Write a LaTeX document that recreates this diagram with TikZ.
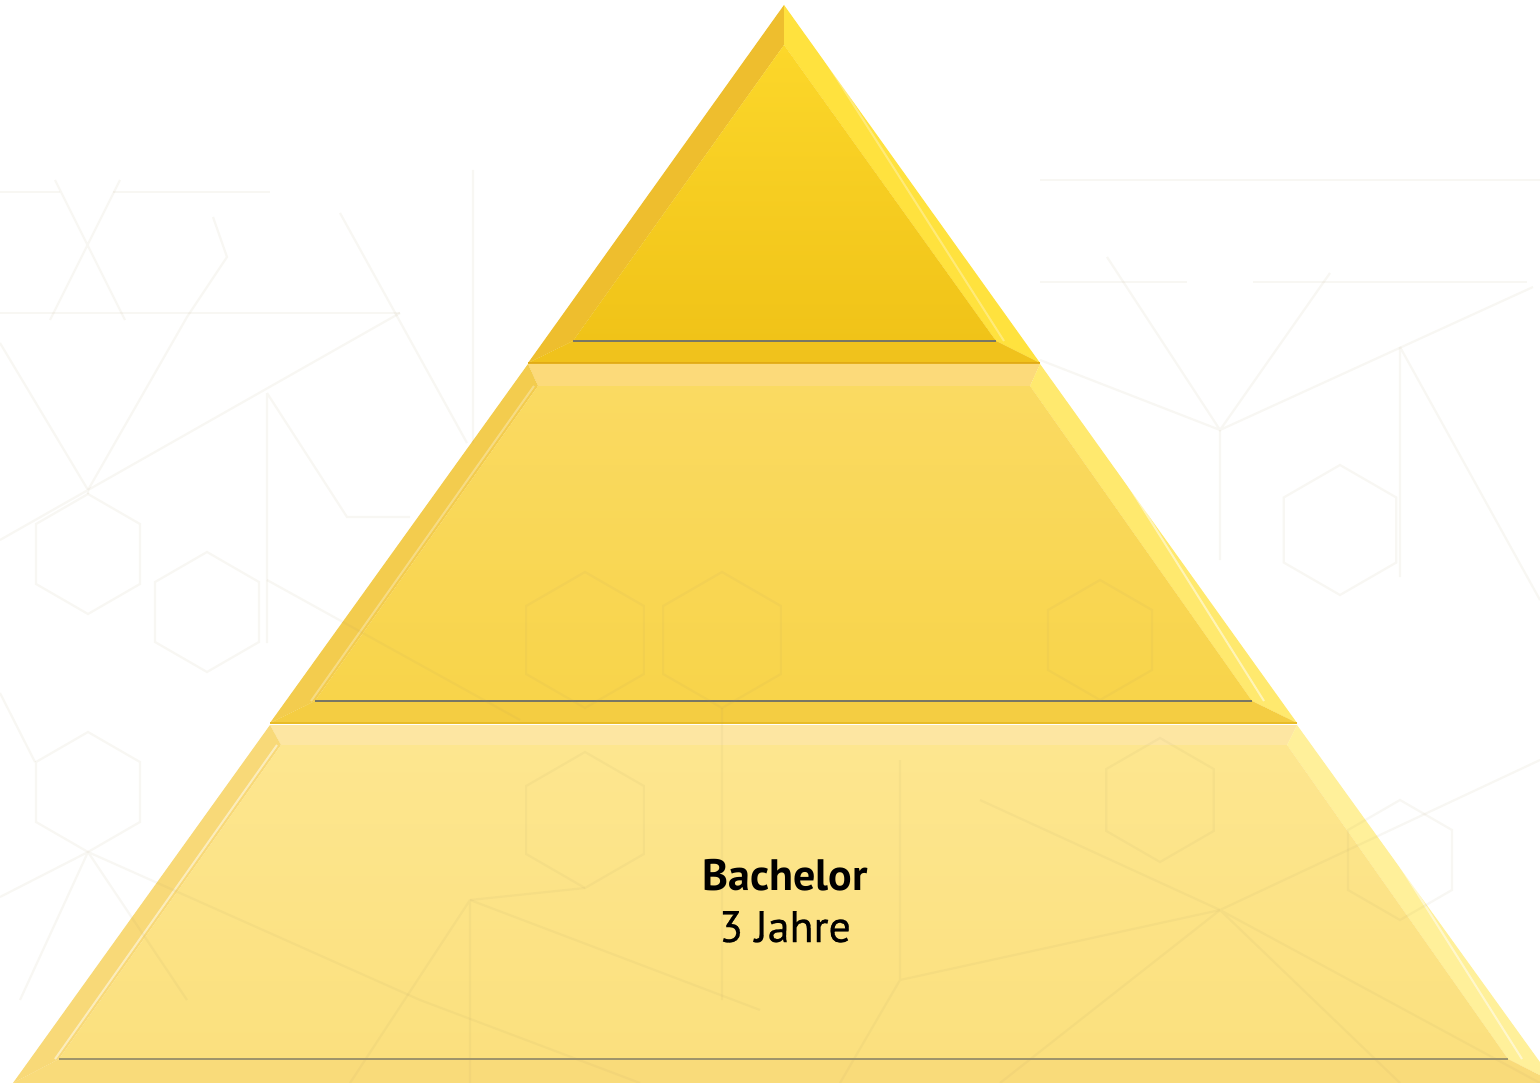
\documentclass[tikz,border=0pt]{standalone}
\usepackage{fontspec}
\setmainfont{PT Sans}
\newfontfamily\regfont[FakeBold=0.6]{PT Sans}
\definecolor{patc}{RGB}{170,150,100}
\definecolor{edgec}{RGB}{120,118,100}
\definecolor{sepA}{RGB}{225,170,20}
\definecolor{sepB}{RGB}{232,188,40}
\definecolor{tFaceA}{HTML}{FCD72A}\definecolor{tFaceB}{HTML}{F0C318}
\definecolor{tLeft}{HTML}{EEBE2E}\definecolor{tRight}{HTML}{FFE23E}\definecolor{tBot}{HTML}{F0C21C}
\definecolor{mFaceA}{HTML}{FADA62}\definecolor{mFaceB}{HTML}{F8D44A}
\definecolor{mTop}{HTML}{FCDA7A}\definecolor{mLeft}{HTML}{F3CC4E}\definecolor{mRight}{HTML}{FFE96E}\definecolor{mBot}{HTML}{F4CD42}
\definecolor{bFaceA}{HTML}{FDE68F}\definecolor{bFaceB}{HTML}{FBE07E}
\definecolor{bTop}{HTML}{FDE6A2}\definecolor{bLeft}{HTML}{F8D978}\definecolor{bRight}{HTML}{FFF09A}\definecolor{bBot}{HTML}{F9DB7A}
\begin{document}
\begin{tikzpicture}[x=1pt,y=-1pt,
  pat/.style={draw=patc,draw opacity=0.075,line width=2.2pt},
  edgeline/.style={draw=edgec,line width=1.4pt},
  hilite/.style={draw=white,draw opacity=0.3,line width=2pt},
  lbl/.style={align=center,font=\fontsize{44}{50}\selectfont,text=black,inner sep=0pt}]
\useasboundingbox (0,0) rectangle (1540,1083);
\fill[white] (0,0) rectangle (1540,1083);
\clip (0,0) rectangle (1540,1083);

% ---------- top tier
\coordinate (A) at (784,5);   \coordinate (a) at (784,45);
\coordinate (TL) at (528,363); \coordinate (TR) at (1040,363);
\coordinate (tl) at (573,341); \coordinate (tr) at (996,341);
\fill[tLeft] (A) -- (a) -- (tl) -- (TL) -- cycle;
\fill[tRight] (A) -- (TR) -- (tr) -- (a) -- cycle;
\fill[tBot] (TL) -- (tl) -- (tr) -- (TR) -- cycle;
\shade[top color=tFaceA,bottom color=tFaceB] (a) -- (tr) -- (tl) -- cycle;
\draw[hilite] ([xshift=6pt]A) -- ([xshift=8pt]tr);
\draw[edgeline] (tl) -- (tr);
\draw[sepA,line width=1.2pt] (TL) -- (TR);

% ---------- middle tier
\coordinate (M1) at (528,364); \coordinate (M2) at (1040,364);
\coordinate (M3) at (1297,723); \coordinate (M4) at (270,723);
\coordinate (m1) at (538,386); \coordinate (m2) at (1030,386);
\coordinate (m3) at (1252,701); \coordinate (m4) at (315,701);
\fill[mTop] (M1) -- (M2) -- (m2) -- (m1) -- cycle;
\fill[mLeft] (M1) -- (m1) -- (m4) -- (M4) -- cycle;
\fill[mRight] (M2) -- (M3) -- (m3) -- (m2) -- cycle;
\fill[mBot] (M4) -- (m4) -- (m3) -- (M3) -- cycle;
\shade[top color=mFaceA,bottom color=mFaceB] (m1) -- (m2) -- (m3) -- (m4) -- cycle;
\draw[hilite] ([xshift=-4pt]m1) -- ([xshift=-4pt]m4);
\draw[hilite,draw opacity=0.5] ([xshift=12pt]M2) -- ([xshift=12pt]m3);
\draw[edgeline] (m4) -- (m3);
\draw[sepB,line width=1.2pt] (M4) -- (M3);

% ---------- bottom tier
\coordinate (B1) at (270,725); \coordinate (B2) at (1297,725);
\coordinate (B3) at (1555,1083); \coordinate (B4) at (13,1083);
\coordinate (b1) at (281,745); \coordinate (b2) at (1287,745);
\coordinate (b3) at (1508,1059); \coordinate (b4) at (59,1059);
\fill[bTop] (B1) -- (B2) -- (b2) -- (b1) -- cycle;
\fill[bLeft] (B1) -- (b1) -- (b4) -- (B4) -- cycle;
\fill[bRight] (B2) -- (B3) -- (b3) -- (b2) -- cycle;
\fill[bBot] (B4) -- (b4) -- (b3) -- (B3) -- cycle;
\shade[top color=bFaceA,bottom color=bFaceB] (b1) -- (b2) -- (b3) -- (b4) -- cycle;
\draw[hilite,draw opacity=0.5] ([xshift=-4pt]b1) -- ([xshift=-4pt]b4);
\draw[hilite,draw opacity=0.5] ([xshift=14pt]B2) -- ([xshift=14pt]b3);
\draw[edgeline,draw opacity=0.7] (b4) -- (b3);

% ---------- faint background pattern
\foreach \cx/\cy/\r in {88/554/60,207/612/60,88/792/60,585/640/68,722/640/68,
                        1100/640/60,1340/530/65,585/820/68,1160/800/62,1400/860/60}{
  \draw[pat] (\cx,\cy-\r) -- (\cx+0.866*\r,\cy-0.5*\r) -- (\cx+0.866*\r,\cy+0.5*\r)
     -- (\cx,\cy+\r) -- (\cx-0.866*\r,\cy+0.5*\r) -- (\cx-0.866*\r,\cy-0.5*\r) -- cycle;
}
\draw[pat] (0,192) -- (60,192) (113,192) -- (270,192);
\draw[pat] (0,313) -- (400,313);
\draw[pat] (55,180) -- (125,320) (120,180) -- (50,320);
\draw[pat] (213,217) -- (227,257) -- (187,317) -- (88,490);
\draw[pat] (0,343) -- (88,490) -- (400,313) (0,540) -- (88,490) -- (88,494);
\draw[pat] (267,393) -- (267,643) (267,393) -- (347,517) -- (410,517);
\draw[pat] (473,170) -- (473,443) (340,213) -- (467,443);
\draw[pat] (0,693) -- (35,762) (0,897) -- (88,852) -- (187,1000) (88,852) -- (20,1000)
  (88,852) -- (420,1000) -- (640,1083);
\draw[pat] (470,900) -- (470,1083) (470,900) -- (350,1083) (470,900) -- (760,1010);
\draw[pat] (267,580) -- (520,720) (722,708) -- (722,1000) (585,888) -- (470,900);
\draw[pat] (1040,180) -- (1540,180) (1040,282) -- (1187,282) (1253,282) -- (1527,282);
\draw[pat] (1107,257) -- (1220,430) -- (1330,273) (1040,360) -- (1220,430) -- (1533,287);
\draw[pat] (1400,347) -- (1400,577) (1400,347) -- (1540,600);
\draw[pat] (1220,430) -- (1220,560) (1220,910) -- (1540,1083) (1220,910) -- (1000,1083)
  (1220,910) -- (1400,1083) (1220,910) -- (980,800) (1220,910) -- (1540,760);
\draw[pat] (900,980) -- (1220,910) (840,1083) -- (900,980) -- (900,760);

% ---------- label
\node[lbl,anchor=base] (bach) at (785,890) {\textbf{Bachelor}};
\node[lbl,anchor=base] (jahre) at (785,942) {\regfont 3 Jahre};
\end{tikzpicture}
\end{document}
